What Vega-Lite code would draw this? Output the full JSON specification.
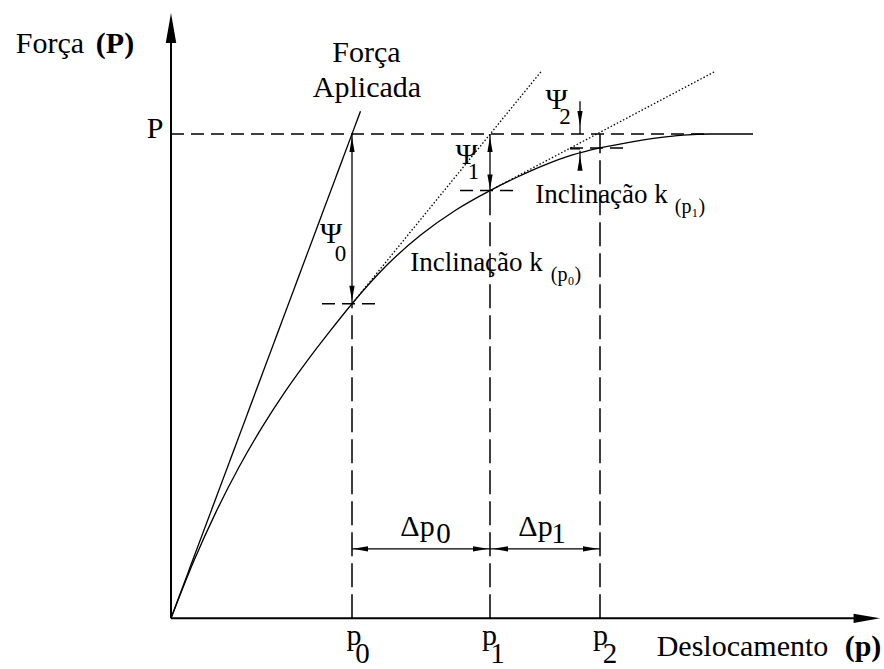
{
  "$schema": "https://vega.github.io/schema/vega-lite/v6.json",
  "width": 884,
  "height": 669,
  "autosize": {"type": "fit", "contains": "padding"},
  "padding": 0,
  "background": "white",
  "config": {"view": {"stroke": null}},
  "datasets": {
    "curve": [
      {"x": 0, "y": 0}, {"x": 2.26, "y": 5.73}, {"x": 4.53, "y": 10.78}, {"x": 6.79, "y": 15.22},
      {"x": 9.05, "y": 19.16}, {"x": 11.31, "y": 22.69}, {"x": 13.58, "y": 25.89}, {"x": 15.84, "y": 28.86},
      {"x": 18.1, "y": 31.7}, {"x": 21.55, "y": 35.55}, {"x": 25.0, "y": 38.64}, {"x": 28.45, "y": 41.12},
      {"x": 31.9, "y": 43.1}, {"x": 34.65, "y": 44.47}, {"x": 37.4, "y": 45.69}, {"x": 40.15, "y": 46.69},
      {"x": 42.9, "y": 47.4}, {"x": 45.68, "y": 47.93}, {"x": 48.45, "y": 48.38}, {"x": 51.23, "y": 48.69},
      {"x": 54.0, "y": 48.8}, {"x": 58.2, "y": 48.8}
    ],
    "axes": [
      {"x": 0, "y": 0, "x2": 0, "y2": 59.5},
      {"x": 0, "y": 0, "x2": 69.5, "y2": 0}
    ],
    "axisUp": [{"x": 0, "y": 61.0}],
    "axisRight": [{"x": 70.9, "y": 0}],
    "solid": [
      {"x": 0, "y": 0, "x2": 18.95, "y2": 51.1},
      {"x": 18.1, "y": 31.7, "x2": 18.1, "y2": 48.8},
      {"x": 31.9, "y": 43.1, "x2": 31.9, "y2": 48.8},
      {"x": 40.9, "y": 52.1, "x2": 40.9, "y2": 48.8},
      {"x": 40.9, "y": 45.3, "x2": 40.9, "y2": 47.1},
      {"x": 39.9, "y": 47.3, "x2": 40.9, "y2": 47.3},
      {"x": 18.1, "y": 7.0, "x2": 31.9, "y2": 7.0},
      {"x": 31.9, "y": 7.0, "x2": 42.9, "y2": 7.0}
    ],
    "dashH": [
      {"x": 0, "y": 48.8, "x2": 54.0, "y2": 48.8},
      {"x": 15.1, "y": 31.7, "x2": 20.9, "y2": 31.7},
      {"x": 28.9, "y": 43.1, "x2": 34.7, "y2": 43.1},
      {"x": 39.9, "y": 47.4, "x2": 45.7, "y2": 47.4}
    ],
    "dashV": [
      {"x": 18.1, "y": 0, "x2": 18.1, "y2": 31.7},
      {"x": 31.9, "y": 0, "x2": 31.9, "y2": 43.1},
      {"x": 42.9, "y": 0, "x2": 42.9, "y2": 48.8}
    ],
    "dotted": [
      {"x": 18.1, "y": 31.7, "x2": 37.1, "y2": 55.2},
      {"x": 31.9, "y": 43.1, "x2": 54.4, "y2": 55.1}
    ],
    "arrUp": [
      {"x": 18.1, "y": 48.5}, {"x": 31.9, "y": 48.5}, {"x": 40.9, "y": 46.6}
    ],
    "arrDown": [
      {"x": 18.1, "y": 32.0}, {"x": 31.9, "y": 43.2}, {"x": 40.9, "y": 49.6}
    ],
    "arrLeft": [
      {"x": 18.2, "y": 7.0}, {"x": 32.2, "y": 7.0}
    ],
    "arrRight": [
      {"x": 31.7, "y": 7.0}, {"x": 42.7, "y": 7.0}
    ],
    "textMain": [
      {"x": -12.1, "y": 57.0, "t": "Força"},
      {"x": -1.6, "y": 48.4, "t": "P"},
      {"x": 19.55, "y": 56.1, "t": "Força"},
      {"x": 19.6, "y": 52.5, "t": "Aplicada"},
      {"x": 57.15, "y": -3.8, "t": "Deslocamento"},
      {"x": 24.65, "y": 8.3, "t": "Δp"},
      {"x": 36.45, "y": 8.3, "t": "Δp"},
      {"x": 18.3, "y": -2.7, "t": "p"},
      {"x": 31.85, "y": -2.7, "t": "p"},
      {"x": 42.95, "y": -2.7, "t": "p"},
      {"x": 16.0, "y": 37.8, "t": "Ψ"},
      {"x": 29.55, "y": 45.8, "t": "Ψ"},
      {"x": 38.55, "y": 51.3, "t": "Ψ"}
    ],
    "textBold": [
      {"x": -5.6, "y": 57.0, "t": "(P)"},
      {"x": 69.2, "y": -3.8, "t": "(p)"}
    ],
    "digitsLarge": [
      {"x": 19.15, "y": -4.5, "t": "0"},
      {"x": 32.65, "y": -4.5, "t": "1"},
      {"x": 43.9, "y": -4.5, "t": "2"},
      {"x": 27.25, "y": 7.6, "t": "0"},
      {"x": 38.75, "y": 7.6, "t": "1"}
    ],
    "digitsSmall": [
      {"x": 16.95, "y": 36.0, "t": "0"},
      {"x": 30.25, "y": 44.3, "t": "1"},
      {"x": 39.4, "y": 49.8, "t": "2"}
    ],
    "textIncl": [
      {"x": 30.55, "y": 35.0, "t": "Inclinação k"},
      {"x": 43.05, "y": 41.8, "t": "Inclinação k"}
    ],
    "textTiny": [
      {"x": 39.5, "y": 34.0, "t": "(p₀)"},
      {"x": 51.9, "y": 40.8, "t": "(p₁)"}
    ]
  },
  "encoding": {
    "x": {"field": "x", "type": "quantitative", "scale": {"domain": [-17.1, 71.3], "nice": false, "zero": false}, "axis": null},
    "y": {"field": "y", "type": "quantitative", "scale": {"domain": [-4.6, 62.3], "nice": false, "zero": false}, "axis": null}
  },
  "layer": [
    {"data": {"name": "dashV"}, "mark": {"type": "rule", "stroke": "black", "strokeWidth": 1.5, "strokeDash": [24, 7]}, "encoding": {"x2": {"field": "x2"}, "y2": {"field": "y2"}}},
    {"data": {"name": "dashH"}, "mark": {"type": "rule", "stroke": "black", "strokeWidth": 1.5, "strokeDash": [13, 7]}, "encoding": {"x2": {"field": "x2"}, "y2": {"field": "y2"}}},
    {"data": {"name": "dotted"}, "mark": {"type": "rule", "stroke": "black", "strokeWidth": 1.3, "strokeDash": [1.5, 2]}, "encoding": {"x2": {"field": "x2"}, "y2": {"field": "y2"}}},
    {"data": {"name": "solid"}, "mark": {"type": "rule", "stroke": "black", "strokeWidth": 1.3}, "encoding": {"x2": {"field": "x2"}, "y2": {"field": "y2"}}},
    {"data": {"name": "curve"}, "mark": {"type": "line", "stroke": "black", "strokeWidth": 1.3, "interpolate": "monotone"}},
    {"data": {"name": "axes"}, "mark": {"type": "rule", "stroke": "black", "strokeWidth": 2}, "encoding": {"x2": {"field": "x2"}, "y2": {"field": "y2"}}},
    {"data": {"name": "axisUp"}, "mark": {"type": "point", "shape": "M0,0L0.35,2L-0.35,2Z", "filled": true, "color": "black", "opacity": 1, "size": 900, "angle": 0}},
    {"data": {"name": "axisRight"}, "mark": {"type": "point", "shape": "M0,0L0.35,2L-0.35,2Z", "filled": true, "color": "black", "opacity": 1, "size": 700, "angle": 90}},
    {"data": {"name": "arrUp"}, "mark": {"type": "point", "shape": "M0,0L0.35,2L-0.35,2Z", "filled": true, "color": "black", "opacity": 1, "size": 225, "angle": 0}},
    {"data": {"name": "arrDown"}, "mark": {"type": "point", "shape": "M0,0L0.35,2L-0.35,2Z", "filled": true, "color": "black", "opacity": 1, "size": 225, "angle": 180}},
    {"data": {"name": "arrLeft"}, "mark": {"type": "point", "shape": "M0,0L0.35,2L-0.35,2Z", "filled": true, "color": "black", "opacity": 1, "size": 225, "angle": 270}},
    {"data": {"name": "arrRight"}, "mark": {"type": "point", "shape": "M0,0L0.35,2L-0.35,2Z", "filled": true, "color": "black", "opacity": 1, "size": 225, "angle": 90}},
    {"data": {"name": "textMain"}, "mark": {"type": "text", "font": "Liberation Serif", "fontSize": 30, "align": "center", "baseline": "alphabetic", "color": "black"}, "encoding": {"text": {"field": "t"}}},
    {"data": {"name": "textBold"}, "mark": {"type": "text", "font": "Liberation Serif", "fontSize": 30, "fontWeight": "bold", "align": "center", "baseline": "alphabetic", "color": "black"}, "encoding": {"text": {"field": "t"}}},
    {"data": {"name": "digitsLarge"}, "mark": {"type": "text", "font": "Liberation Serif", "fontSize": 29, "align": "center", "baseline": "alphabetic", "color": "black"}, "encoding": {"text": {"field": "t"}}},
    {"data": {"name": "digitsSmall"}, "mark": {"type": "text", "font": "Liberation Serif", "fontSize": 23, "align": "center", "baseline": "alphabetic", "color": "black"}, "encoding": {"text": {"field": "t"}}},
    {"data": {"name": "textIncl"}, "mark": {"type": "text", "font": "Liberation Serif", "fontSize": 27, "align": "center", "baseline": "alphabetic", "color": "black"}, "encoding": {"text": {"field": "t"}}},
    {"data": {"name": "textTiny"}, "mark": {"type": "text", "font": "Liberation Serif", "fontSize": 20, "align": "center", "baseline": "alphabetic", "color": "black"}, "encoding": {"text": {"field": "t"}}}
  ]
}
